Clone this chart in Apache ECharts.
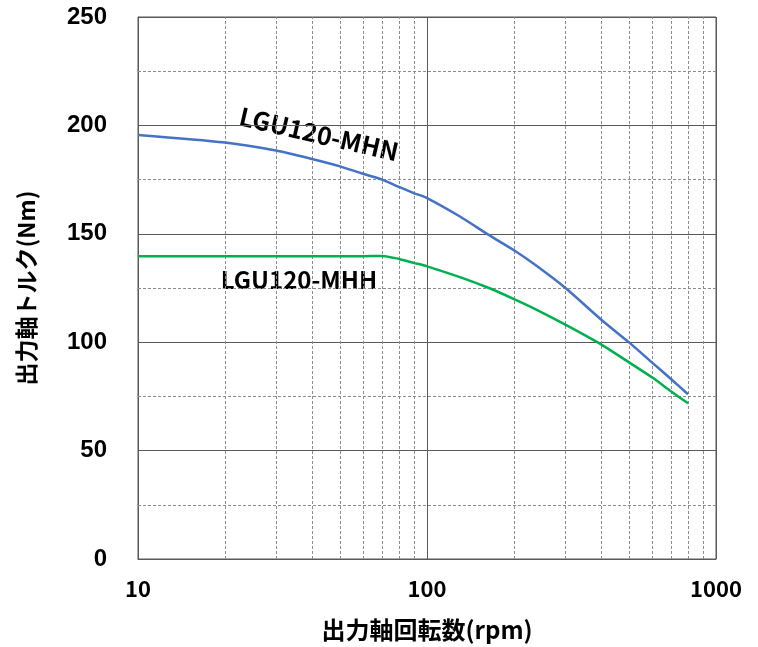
<!DOCTYPE html>
<html><head><meta charset="utf-8">
<script src="https://cdn.jsdelivr.net/npm/echarts@6/dist/echarts.min.js"></script>
<style>html,body{margin:0;padding:0;background:#fff}#c{width:758px;height:647px}</style>
</head><body><div id="c"></div>
<script>
const rpm = [10, 20, 30, 40, 50, 60, 70, 80, 90, 100, 130, 163, 200, 236, 300, 400, 500, 600, 700, 800];
const torqueMHN = [195.6, 192.1, 188.4, 184.5, 181.1, 177.7, 175.0, 171.6, 168.8, 166.5, 158.0, 149.6, 142.4, 135.8, 125.2, 110.5, 99.9, 90.7, 82.9, 76.0];
const torqueMHH = [139.6, 139.6, 139.6, 139.6, 139.6, 139.7, 139.8, 138.4, 136.6, 135.0, 130.0, 125.1, 119.9, 115.4, 108.2, 99.0, 90.7, 83.8, 77.3, 71.8];
const minorX = [20, 30, 40, 50, 60, 70, 80, 90, 200, 300, 400, 500, 600, 700, 800, 900];
const minorY = [25, 75, 125, 175, 225];
const labelMHN = 'LGU120-MHN';
const labelMHH = 'LGU120-MHH';
const xName = '出力軸回転数(rpm)';
const yName = '出力軸トルク(Nm)';

const chart = echarts.init(document.getElementById('c'), null, {renderer: 'canvas'});
const dark = '#595959';
const jp = '"Noto Sans CJK JP", "Noto Sans", sans-serif';
chart.setOption({
  animation: false,
  backgroundColor: '#fff',
  grid: {left: 138, right: 42, top: 17, bottom: 87, show: true, borderColor: dark, borderWidth: 1, backgroundColor: 'transparent'},
  xAxis: {
    type: 'log', logBase: 10, min: 10, max: 1000,
    name: xName, nameLocation: 'middle', nameGap: 59,
    nameTextStyle: {fontFamily: jp, fontWeight: 'bold', fontSize: 24, color: '#000'},
    axisLine: {show: true, lineStyle: {color: dark, width: 1}},
    axisTick: {show: false},
    axisLabel: {fontFamily: jp, fontWeight: 'bold', fontSize: 22, color: '#000', margin: 19, formatter: v => String(v)},
    splitLine: {show: true, lineStyle: {color: dark, width: 1}}
  },
  yAxis: {
    type: 'value', min: 0, max: 250, interval: 50,
    name: yName, nameLocation: 'middle', nameGap: 100,
    nameTextStyle: {fontFamily: jp, fontWeight: 'bold', fontSize: 23, color: '#000'},
    axisLine: {show: true, lineStyle: {color: dark, width: 1}},
    axisTick: {show: false},
    axisLabel: {fontFamily: '"Liberation Sans", Arial, sans-serif', fontWeight: 'bold', fontSize: 24, color: '#000', margin: 31},
    splitLine: {show: true, lineStyle: {color: dark, width: 1}}
  },
  graphic: [
    {type: 'group', x: 319, y: 134, rotation: -13 * Math.PI / 180, z: 3, children: [
      {type: 'rect', shape: {x: -98, y: -19, width: 196, height: 38}, style: {fill: '#fff'}},
      {type: 'text', x: 0, y: 0, style: {text: labelMHN, fill: '#000', font: 'bold 25px ' + jp, align: 'center', verticalAlign: 'middle'}}
    ]},
    {type: 'group', x: 299, y: 280, z: 3, children: [
      {type: 'rect', shape: {x: -102, y: -18, width: 204, height: 37}, style: {fill: '#fff'}},
      {type: 'text', x: 0, y: 0, style: {text: labelMHH, fill: '#000', font: 'bold 24px ' + jp, align: 'center', verticalAlign: 'middle'}}
    ]}
  ],
  series: [
    {type: 'line', data: [], z: 1, silent: true,
      markLine: {silent: true, symbol: 'none', label: {show: false},
        lineStyle: {color: '#8c8c8c', type: [3, 2], width: 1},
        data: minorX.map(v => ({xAxis: v})).concat(minorY.map(v => ({yAxis: v})))}},
    {type: 'line', name: labelMHN, z: 10, data: rpm.map((x, i) => [x, torqueMHN[i]]), smooth: 0.25, showSymbol: false,
      lineStyle: {color: '#4472C4', width: 2.5}},
    {type: 'line', name: labelMHH, z: 10, data: rpm.map((x, i) => [x, torqueMHH[i]]), smooth: 0.25, showSymbol: false,
      lineStyle: {color: '#00B050', width: 2.5}}
  ]
});
</script></body></html>
